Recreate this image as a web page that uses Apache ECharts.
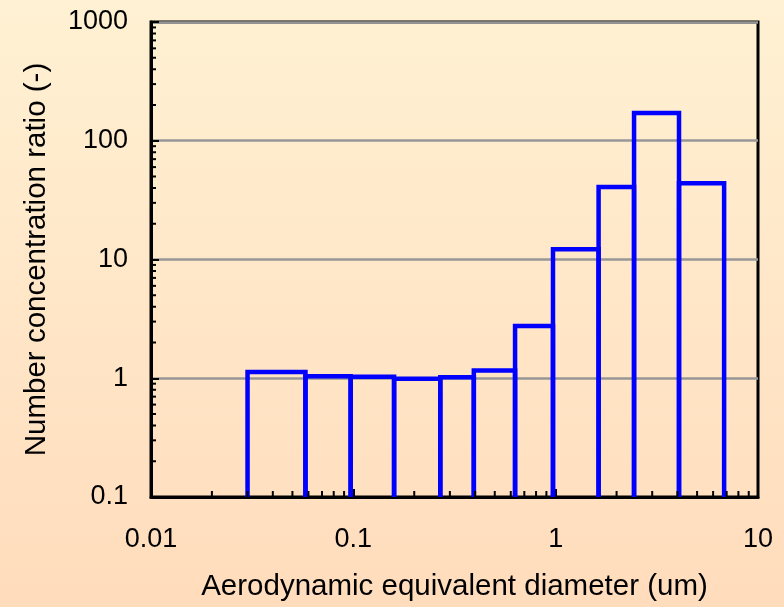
<!DOCTYPE html>
<html>
<head>
<meta charset="utf-8">
<script src="https://cdn.jsdelivr.net/npm/echarts@6/dist/echarts.min.js"></script>
<style>
html,body{margin:0;padding:0;background:#FFE8C8;}
#chart{width:784px;height:607px;}
</style>
</head>
<body>
<div id="chart"></div>
<script>
// Bin edges (um)
const binEdges = [0.03, 0.058, 0.097, 0.159, 0.269, 0.394, 0.63, 0.97, 1.63, 2.44, 4.07, 6.8];
// Number concentration ratio of each bin
const ratios = [1.13, 1.04, 1.03, 0.99, 1.02, 1.16, 2.75, 12.2, 40.8, 171, 43.8];
// Axis settings
const xDecades = [0.01, 0.1, 1];
const yDecades = [0.1, 1, 10, 100];
const xTitle = 'Aerodynamic equivalent diameter (um)';
const yTitle = 'Number concentration ratio (-)';

const FONT = '"Liberation Sans", Arial, sans-serif';

const bars = ratios.map((v, i) => [binEdges[i], binEdges[i + 1], v]);

const xMinor = [];
xDecades.forEach(d => { for (let k = 2; k <= 9; k++) xMinor.push([d * k, 0.1]); });
const yMinor = [];
yDecades.forEach(d => { for (let k = 2; k <= 9; k++) yMinor.push([0.01, d * k]); });

const chart = echarts.init(document.getElementById('chart'), null, {renderer: 'canvas'});

chart.setOption({
  animation: false,
  backgroundColor: {
    type: 'linear', x: 0, y: 0, x2: 0, y2: 1,
    colorStops: [{offset: 0, color: '#FFF1D3'}, {offset: 1, color: '#FFDCBC'}]
  },
  textStyle: {fontFamily: FONT},
  grid: {
    left: 151, right: 26, top: 22, bottom: 108,
    show: true, borderColor: '#000', borderWidth: 3, backgroundColor: 'transparent'
  },
  xAxis: {
    type: 'log', logBase: 10, min: 0.01, max: 10,
    name: xTitle, nameLocation: 'middle', nameGap: 75,
    nameTextStyle: {fontSize: 29.5, color: '#000', fontFamily: FONT},
    axisLine: {show: true, onZero: false, lineStyle: {color: '#000', width: 3}},
    axisTick: {show: true, inside: true, length: 8, lineStyle: {color: '#000', width: 2}},
    axisLabel: {fontSize: 27, color: '#000', margin: 29, fontFamily: FONT,
      formatter: v => String(+v.toPrecision(3))},
    splitLine: {show: false}
  },
  yAxis: {
    type: 'log', logBase: 10, min: 0.1, max: 1000,
    name: yTitle, nameLocation: 'middle', nameGap: 99,
    nameTextStyle: {fontSize: 29.5, color: '#000', fontFamily: FONT},
    axisLine: {show: true, lineStyle: {color: '#000', width: 3}},
    axisTick: {show: true, inside: true, length: 8, lineStyle: {color: '#000', width: 2}},
    axisLabel: {fontSize: 27, color: '#000', margin: 23, fontFamily: FONT,
      formatter: v => String(+v.toPrecision(3))},
    splitLine: {show: true, lineStyle: {color: '#979797', width: 2.5}}
  },
  series: [
    {
      type: 'custom', coordinateSystem: 'cartesian2d', z: 5,
      data: bars,
      encode: {x: [0, 1], y: 2},
      renderItem: function (params, api) {
        const x0 = api.value(0), x1 = api.value(1), v = api.value(2);
        const tl = api.coord([x0, v]);
        const tr = api.coord([x1, v]);
        const bl = api.coord([x0, 0.1]);
        return {
          type: 'polyline',
          shape: {points: [[tl[0], bl[1]], tl, tr, [tr[0], bl[1]]]},
          style: {stroke: '#0000FF', lineWidth: 4.5, fill: null, lineJoin: 'miter'}
        };
      }
    },
    {
      type: 'custom', coordinateSystem: 'cartesian2d', z: 6, silent: true,
      data: xMinor,
      renderItem: function (params, api) {
        const p = api.coord([api.value(0), api.value(1)]);
        return {type: 'line', shape: {x1: p[0], y1: p[1], x2: p[0], y2: p[1] - 6},
          style: {stroke: '#000', lineWidth: 2}};
      }
    },
    {
      type: 'custom', coordinateSystem: 'cartesian2d', z: 6, silent: true,
      data: yMinor,
      renderItem: function (params, api) {
        const p = api.coord([api.value(0), api.value(1)]);
        return {type: 'line', shape: {x1: p[0], y1: p[1], x2: p[0] + 5, y2: p[1]},
          style: {stroke: '#000', lineWidth: 2}};
      }
    }
  ]
});
</script>
</body>
</html>
